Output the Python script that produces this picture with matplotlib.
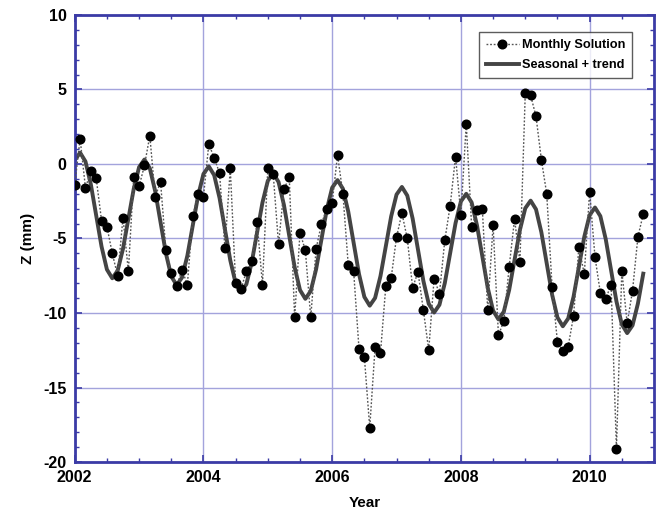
import numpy as np
import matplotlib
matplotlib.use("Agg")
import matplotlib.pyplot as plt
from matplotlib.ticker import MultipleLocator

# --- DATA ---
START_YEAR = 2002.0  # first monthly epoch, one value per month after it

monthly_z = [
    -1.4, 1.7, -1.6, -0.5, -0.95, -3.8, -4.2, -6.0, -7.5, -3.6, -7.2, -0.86,
    -1.5, -0.1, 1.9, -2.2, -1.2, -5.8, -7.3, -8.2, -7.1, -8.1, -3.5, -2.0,
    -2.2, 1.35, 0.4, -0.6, -5.65, -0.3, -8.0, -8.4, -7.2, -6.5, -3.9, -8.1,
    -0.3, -0.65, -5.4, -1.7, -0.9, -10.3, -4.6, -5.8, -10.3, -5.7, -4.0, -3.0,
    -2.6, 0.6, -2.0, -6.8, -7.2, -12.4, -12.95, -17.7, -12.3, -12.7, -8.2, -7.65,
    -4.9, -3.3, -5.0, -8.3, -7.25, -9.8, -12.5, -7.7, -8.7, -5.1, -2.8, 0.5,
    -3.4, 2.7, -4.2, -3.1, -3.05, -9.8, -4.1, -11.5, -10.55, -6.9, -3.7, -6.6,
    4.75, 4.6, 3.2, 0.3, -2.0, -8.25, -11.95, -12.55, -12.25, -10.2, -5.55, -7.4,
    -1.85, -6.25, -8.65, -9.05, -8.1, -19.1, -7.15, -10.7, -8.5, -4.9, -3.35,
]

seasonal_trend = [
    0.25, 0.76, 0.17, -1.36, -3.45, -5.54, -7.08, -7.67, -7.16, -5.69, -3.68, -1.67,
    -0.21, 0.30, -0.29, -1.82, -3.91, -6.00, -7.54, -8.13, -7.62, -6.15, -4.14, -2.13,
    -0.67, -0.16, -0.75, -2.28, -4.37, -6.46, -8.00, -8.59, -8.07, -6.61, -4.60, -2.59,
    -1.13, -0.62, -1.21, -2.74, -4.83, -6.92, -8.46, -9.05, -8.53, -7.07, -5.06, -3.05,
    -1.59, -1.08, -1.66, -3.20, -5.29, -7.38, -8.92, -9.51, -8.99, -7.53, -5.52, -3.51,
    -2.05, -1.54, -2.12, -3.66, -5.75, -7.84, -9.38, -9.97, -9.45, -7.99, -5.98, -3.97,
    -2.51, -2.00, -2.58, -4.12, -6.21, -8.30, -9.84, -10.43, -9.91, -8.45, -6.44, -4.43,
    -2.97, -2.46, -3.04, -4.58, -6.67, -8.76, -10.30, -10.89, -10.37, -8.91, -6.90, -4.89,
    -3.43, -2.92, -3.50, -5.04, -7.13, -9.22, -10.76, -11.35, -10.83, -9.37, -7.36,
]

year_ticks = [2002, 2004, 2006, 2008, 2010]
z_ticks = [-20, -15, -10, -5, 0, 5, 10]

# --- STYLE ---
plt.rcParams['font.family'] = ['Liberation Sans', 'DejaVu Sans']
plt.rcParams['font.weight'] = 'bold'
plt.rcParams['axes.unicode_minus'] = False
FRAME = '#3b3ba6'
GRID = '#a3a3dc'

t = START_YEAR + np.arange(len(monthly_z)) / 12.0

fig = plt.figure(figsize=(6.59, 5.13), dpi=100)
ax = fig.add_axes([0.1134, 0.0994, 0.879, 0.8714])

ax.plot(t, monthly_z, linestyle=(0, (1.3, 1.3)), color='#555555', linewidth=1.0,
        marker='o', markersize=6.2, markerfacecolor='black', markeredgecolor='black',
        label='Monthly Solution', zorder=3)
ax.plot(t, seasonal_trend, color='#444444', linewidth=2.8, label='Seasonal + trend', zorder=2)

ax.set_xlim(2002, 2011)
ax.set_ylim(-20, 10)
ax.set_xticks(year_ticks)
ax.set_yticks(z_ticks)
ax.xaxis.set_minor_locator(MultipleLocator(0.5))
ax.yaxis.set_minor_locator(MultipleLocator(1))
ax.grid(True, which='major', color=GRID, linewidth=1.0, zorder=0)
ax.set_axisbelow(True)

for s in ax.spines.values():
    s.set_color(FRAME)
    s.set_linewidth(2.0)
ax.tick_params(which='both', direction='in', top=True, right=True, color=FRAME,
               labelsize=11.5, labelcolor='black', pad=6)
ax.tick_params(which='major', length=5, width=1.2)
ax.tick_params(which='minor', length=3, width=1.0)

ax.set_xlabel('Year', fontsize=11, fontweight='bold', labelpad=8)
ax.set_ylabel('Z (mm)', fontsize=11, fontweight='bold', labelpad=6)

leg = ax.legend(loc='upper right', bbox_to_anchor=(0.962, 0.962), borderaxespad=0,
                fontsize=9.2, frameon=True, fancybox=False, handlelength=2.6,
                borderpad=0.55, labelspacing=0.65, handletextpad=0.2)
leg.get_frame().set_edgecolor('#333333')
leg.get_frame().set_linewidth(1.0)
for txt in leg.get_texts():
    txt.set_fontweight('bold')

fig.savefig('out.png', dpi=100)
